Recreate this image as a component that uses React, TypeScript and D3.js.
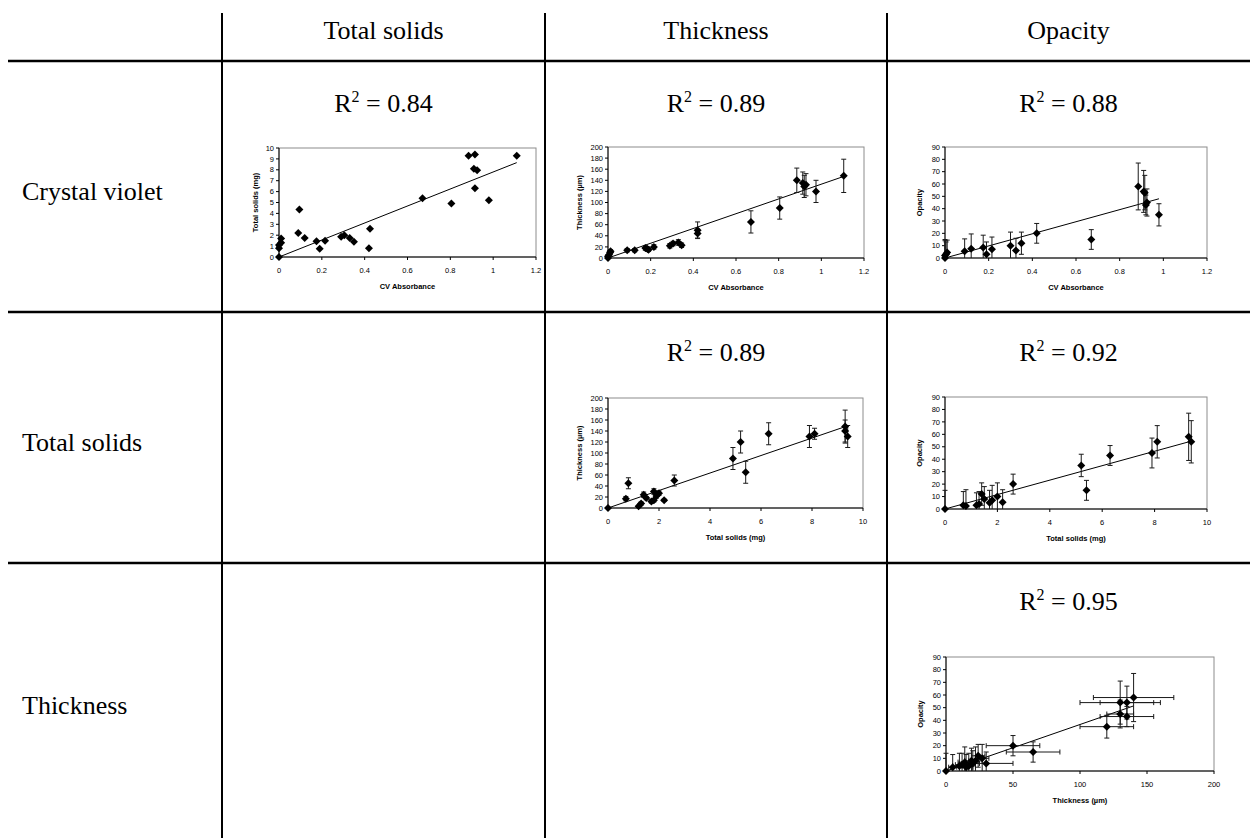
import React from "react";
import * as d3 from "d3";

// ---------- table text ----------
const columnHeaders = ["Total solids", "Thickness", "Opacity"];
const rowHeaders = ["Crystal violet", "Total solids", "Thickness"];

// ---------- chart 1 : Total solids vs CV absorbance ----------
const c1X = [0, 0, 0, 0.01, 0.01, 0.09, 0.095, 0.12, 0.175, 0.19, 0.215, 0.29, 0.305, 0.33, 0.35, 0.42, 0.425, 0.67, 0.805, 0.885, 0.915, 0.91, 0.925, 0.915, 0.98, 1.11];
const c1Y = [0, 0.8, 1.1, 1.3, 1.7, 2.2, 4.35, 1.75, 1.45, 0.75, 1.5, 1.85, 2.0, 1.75, 1.4, 0.8, 2.6, 5.4, 4.9, 9.3, 9.4, 8.1, 7.95, 6.3, 5.2, 9.3];
const c1Slope = 7.8;
const c1R2 = "0.84";

// ---------- chart 2 : Thickness vs CV absorbance ----------
const c2X = [0, 0, 0.005, 0.01, 0.012, 0.09, 0.125, 0.175, 0.185, 0.19, 0.215, 0.29, 0.305, 0.33, 0.345, 0.42, 0.42, 0.67, 0.805, 0.885, 0.913, 0.92, 0.928, 0.975, 1.105];
const c2Y = [0, 3, 6, 10, 12, 14, 14, 18, 16, 15, 20, 22, 26, 28, 23, 44, 50, 65, 90, 140, 135, 129, 132, 120, 148];
const c2YErr = [2, 2, 3, 3, 3, 3, 3, 4, 4, 3, 4, 4, 4, 5, 4, 8, 15, 20, 20, 22, 20, 20, 20, 20, 30];
const c2Slope = 133;
const c2R2 = "0.89";

// ---------- chart 3 : Opacity vs CV absorbance ----------
const c3X = [0, 0, 0.005, 0.01, 0.09, 0.12, 0.175, 0.19, 0.215, 0.3, 0.325, 0.35, 0.42, 0.67, 0.885, 0.91, 0.915, 0.92, 0.925, 0.98];
const c3Y = [0, 2, 3, 4.5, 5.5, 7.5, 8.5, 3, 7, 10, 6, 12, 20, 15, 58, 54, 53, 43, 45, 35];
const c3YErr = [15, 12, 10, 10, 10, 12, 10, 10, 10, 11, 10, 9, 8, 8, 19, 17, 14, 8, 11, 9];
const c3Slope = 49;
const c3R2 = "0.88";

// ---------- chart 4 : Thickness vs Total solids ----------
const c4X = [0, 0.7, 0.8, 1.2, 1.3, 1.4, 1.5, 1.7, 1.8, 1.8, 1.9, 2.0, 2.2, 2.6, 4.9, 5.2, 5.4, 6.3, 7.9, 8.1, 9.3, 9.3, 9.4];
const c4Y = [0, 17, 45, 3, 8, 24, 18, 12, 30, 14, 22, 27, 14, 50, 90, 120, 65, 135, 130, 135, 148, 140, 130];
const c4YErr = [1, 4, 10, 2, 3, 5, 3, 3, 5, 3, 4, 4, 2, 10, 20, 20, 20, 20, 20, 10, 30, 20, 20];
const c4Slope = 15.9;
const c4R2 = "0.89";

// ---------- chart 5 : Opacity vs Total solids ----------
const c5X = [0, 0.7, 0.8, 1.2, 1.3, 1.4, 1.5, 1.7, 1.8, 2.0, 2.2, 2.6, 5.2, 5.4, 6.3, 7.9, 8.1, 9.3, 9.4];
const c5Y = [0, 3, 2.5, 3, 4, 12, 8, 5, 7, 10, 5.5, 20, 35, 15, 43, 45, 54, 58, 54];
const c5YErr = [15, 11, 13, 10, 10, 9, 10, 10, 12, 11, 10, 8, 9, 8, 8, 12, 13, 19, 17];
const c5Slope = 5.8;
const c5R2 = "0.92";

// ---------- chart 6 : Opacity vs Thickness ----------
const c6X = [0, 5, 10, 12, 14, 15, 17, 19, 20, 22, 24, 27, 30, 50, 65, 120, 130, 130, 135, 135, 140];
const c6Y = [0, 3, 4, 5, 7, 3, 4, 8, 6, 8, 12, 10, 6, 20, 15, 35, 54, 45, 54, 43, 58];
const c6XErr = [0, 3, 5, 5, 5, 5, 5, 5, 5, 5, 5, 5, 20, 20, 20, 20, 30, 10, 20, 20, 30];
const c6YErr = [14, 10, 10, 9, 12, 10, 10, 10, 10, 11, 9, 11, 9, 8, 8, 9, 17, 11, 13, 8, 19];
const c6Slope = 0.367;
const c6R2 = "0.95";

// ---------- axis ticks & titles ----------
const cvTicks = [0, 0.2, 0.4, 0.6, 0.8, 1, 1.2];
const tsTicks = [0, 2, 4, 6, 8, 10];
const thTicksX = [0, 50, 100, 150, 200];
const tsTicksY = [0, 1, 2, 3, 4, 5, 6, 7, 8, 9, 10];
const thTicksY = [0, 20, 40, 60, 80, 100, 120, 140, 160, 180, 200];
const opTicksY = [0, 10, 20, 30, 40, 50, 60, 70, 80, 90];
const titleCV = "CV Absorbance";
const titleTS = "Total solids (mg)";
const titleTH = "Thickness (\u00b5m)";
const titleOP = "Opacity";

type Spec = {
  left: number; top: number; width: number; height: number;
  xTicks: number[]; yTicks: number[];
  xTitle: string; yTitle: string; yTitleOff: number;
  xs: number[]; ys: number[]; yErr?: number[]; xErr?: number[];
  slope: number;
};

const SANS = "'Liberation Sans', Arial, sans-serif";
const SERIF = "'Liberation Serif', 'Times New Roman', serif";

function Chart({ s }: { s: Spec }) {
  const x = d3.scaleLinear().domain([s.xTicks[0], s.xTicks[s.xTicks.length - 1]]).range([s.left, s.left + s.width]);
  const y = d3.scaleLinear().domain([s.yTicks[0], s.yTicks[s.yTicks.length - 1]]).range([s.top + s.height, s.top]);
  const bottom = s.top + s.height;
  const xEnd = d3.max(s.xs) as number;
  const trend = d3.line<number>().x((d) => x(d)).y((d) => y(d * s.slope))([0, xEnd]) as string;
  const r = 4;
  const diamond = `M0,${-r}L${r},0L0,${r}L${-r},0Z`;
  const cap = 2.5;
  return (
    <g>
      <rect x={s.left} y={s.top} width={s.width} height={s.height} fill="#fff" stroke="#8c8c8c" strokeWidth={1} />
      <line x1={s.left} x2={s.left} y1={s.top} y2={bottom + 3} stroke="#000" />
      <line x1={s.left - 3} x2={s.left + s.width} y1={bottom} y2={bottom} stroke="#000" />
      {s.yTicks.map((t) => (
        <g key={"y" + t}>
          <line x1={s.left - 3} x2={s.left} y1={y(t)} y2={y(t)} stroke="#000" />
          <text x={s.left - 5} y={y(t)} dy="0.35em" textAnchor="end" fontSize={7.5} fontFamily={SANS}>{t}</text>
        </g>
      ))}
      {s.xTicks.map((t) => (
        <g key={"x" + t}>
          <line x1={x(t)} x2={x(t)} y1={bottom} y2={bottom + 3} stroke="#000" />
          <text x={x(t)} y={bottom + 13} dy="0.35em" textAnchor="middle" fontSize={7.5} fontFamily={SANS}>{t}</text>
        </g>
      ))}
      <text x={s.left + s.width / 2} y={bottom + 29} dy="0.35em" textAnchor="middle" fontSize={7.5} fontWeight="bold" fontFamily={SANS}>{s.xTitle}</text>
      <text transform={`translate(${s.left - s.yTitleOff},${s.top + s.height / 2}) rotate(-90)`} dy="0.35em" textAnchor="middle" fontSize={7.5} fontWeight="bold" fontFamily={SANS}>{s.yTitle}</text>
      <path d={trend} stroke="#000" strokeWidth={1} fill="none" />
      {s.xs.map((xv, i) => {
        const yv = s.ys[i];
        const ye = s.yErr ? s.yErr[i] : 0;
        const xe = s.xErr ? s.xErr[i] : 0;
        return (
          <g key={"e" + i} stroke="#1a1a1a" strokeWidth={1}>
            {ye > 0 && (
              <>
                <line x1={x(xv)} x2={x(xv)} y1={y(Math.max(0, yv - ye))} y2={y(yv + ye)} />
                <line x1={x(xv) - cap} x2={x(xv) + cap} y1={y(yv + ye)} y2={y(yv + ye)} />
                {yv - ye >= 0 && <line x1={x(xv) - cap} x2={x(xv) + cap} y1={y(yv - ye)} y2={y(yv - ye)} />}
              </>
            )}
            {xe > 0 && (
              <>
                <line x1={x(Math.max(0, xv - xe))} x2={x(xv + xe)} y1={y(yv)} y2={y(yv)} />
                <line x1={x(xv + xe)} x2={x(xv + xe)} y1={y(yv) - cap} y2={y(yv) + cap} />
                {xv - xe >= 0 && <line x1={x(xv - xe)} x2={x(xv - xe)} y1={y(yv) - cap} y2={y(yv) + cap} />}
              </>
            )}
          </g>
        );
      })}
      {s.xs.map((xv, i) => (
        <path key={"m" + i} d={diamond} transform={`translate(${x(xv)},${y(s.ys[i])})`} fill="#000" />
      ))}
    </g>
  );
}

const charts: Spec[] = [
  { left: 279, top: 148, width: 257, height: 109, xTicks: cvTicks, yTicks: tsTicksY, xTitle: titleCV, yTitle: titleTS, yTitleOff: 24, xs: c1X, ys: c1Y, slope: c1Slope },
  { left: 608, top: 147, width: 256, height: 111, xTicks: cvTicks, yTicks: thTicksY, xTitle: titleCV, yTitle: titleTH, yTitleOff: 29, xs: c2X, ys: c2Y, yErr: c2YErr, slope: c2Slope },
  { left: 945, top: 147, width: 262, height: 111, xTicks: cvTicks, yTicks: opTicksY, xTitle: titleCV, yTitle: titleOP, yTitleOff: 26, xs: c3X, ys: c3Y, yErr: c3YErr, slope: c3Slope },
  { left: 608, top: 398, width: 255, height: 110, xTicks: tsTicks, yTicks: thTicksY, xTitle: titleTS, yTitle: titleTH, yTitleOff: 29, xs: c4X, ys: c4Y, yErr: c4YErr, slope: c4Slope },
  { left: 945, top: 397, width: 262, height: 112, xTicks: tsTicks, yTicks: opTicksY, xTitle: titleTS, yTitle: titleOP, yTitleOff: 26, xs: c5X, ys: c5Y, yErr: c5YErr, slope: c5Slope },
  { left: 946, top: 657, width: 268, height: 114, xTicks: thTicksX, yTicks: opTicksY, xTitle: titleTH, yTitle: titleOP, yTitleOff: 26, xs: c6X, ys: c6Y, yErr: c6YErr, xErr: c6XErr, slope: c6Slope },
];

const r2Labels = [
  { v: c1R2, col: 0, row: 0 },
  { v: c2R2, col: 1, row: 0 },
  { v: c3R2, col: 2, row: 0 },
  { v: c4R2, col: 1, row: 1 },
  { v: c5R2, col: 2, row: 1 },
  { v: c6R2, col: 2, row: 2 },
];

export default function App() {
  const colX = [222, 545, 887, 1250];
  const rowY = [61, 312, 563, 838];
  const colCenter = (c: number) => (colX[c] + colX[c + 1]) / 2;
  const r2Y = [103, 352, 601];
  return (
    <svg width={1250} height={838} style={{ position: "absolute", left: 0, top: 0, background: "#fff" }}>
      {colX.slice(0, 3).map((cx) => (
        <line key={cx} x1={cx} x2={cx} y1={13} y2={838} stroke="#000" strokeWidth={2} />
      ))}
      {rowY.slice(0, 3).map((ry) => (
        <line key={ry} x1={8} x2={1250} y1={ry} y2={ry} stroke="#000" strokeWidth={2.5} />
      ))}
      {columnHeaders.map((h, i) => (
        <text key={h} x={colCenter(i)} y={30} dy="0.35em" textAnchor="middle" fontSize={26} fontFamily={SERIF}>{h}</text>
      ))}
      {rowHeaders.map((h, i) => (
        <text key={h + i} x={22} y={(rowY[i] + rowY[i + 1]) / 2 + 4} dy="0.35em" fontSize={26} fontFamily={SERIF}>{h}</text>
      ))}
      {r2Labels.map((l, i) => (
        <text key={"r" + i} x={colCenter(l.col)} y={r2Y[l.row]} dy="0.35em" textAnchor="middle" fontSize={26} fontFamily={SERIF}>
          R<tspan fontSize={16} dy="-10">2</tspan><tspan dy="10"> = {l.v}</tspan>
        </text>
      ))}
      {charts.map((s, i) => (
        <Chart key={i} s={s} />
      ))}
    </svg>
  );
}
